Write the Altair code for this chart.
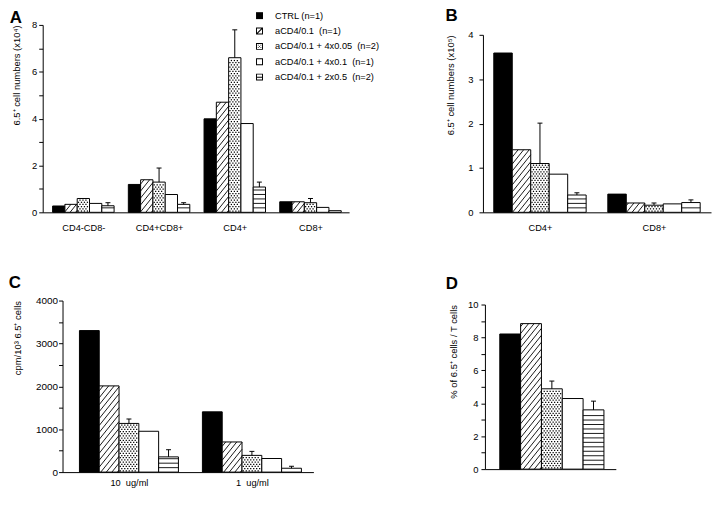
import json
import altair as alt
import numpy as np
import pandas as pd

FONT = "Liberation Sans"

# ---------------- data ----------------
SERIES = ["CTRL (n=1)", "aCD4/0.1\u00a0 (n=1)", "aCD4/0.1 + 4x0.05\u00a0 (n=2)",
          "aCD4/0.1 + 4x0.1\u00a0 (n=1)", "aCD4/0.1 + 2x0.5\u00a0 (n=2)"]
PATTERNS = ["solid", "hatch", "dots", "empty", "lines"]

A_GROUPS = ["CD4-CD8-", "CD4+CD8+", "CD4+", "CD8+"]
A_CTRL = [0.27, 1.19, 3.99, 0.45]
A_CD4 = [0.34, 1.39, 4.70, 0.45]
A_4X005 = [0.59, 1.29, 6.60, 0.41]
A_4X01 = [0.38, 0.76, 3.79, 0.21]
A_2X05 = [0.28, 0.34, 1.08, 0.07]
A_SD_4X005 = [0.0, 0.60, 1.19, 0.18]
A_SD_2X05 = [0.13, 0.07, 0.21, 0.0]

B_GROUPS = ["CD4+", "CD8+"]
B_CTRL = [3.59, 0.41]
B_CD4 = [1.41, 0.21]
B_4X005 = [1.10, 0.16]
B_4X01 = [0.86, 0.19]
B_2X05 = [0.39, 0.22]
B_SD_4X005 = [0.91, 0.05]
B_SD_2X05 = [0.05, 0.06]

C_GROUPS = ["10\u00a0 ug/ml", "1\u00a0 ug/ml"]
C_CTRL = [3300, 1405]
C_CD4 = [2010, 703]
C_4X005 = [1135, 390]
C_4X01 = [952, 317]
C_2X05 = [355, 90]
C_SD_4X005 = [103, 93]
C_SD_2X05 = [167, 46]

D_GROUPS = [""]
D_CTRL = [8.21]
D_CD4 = [8.84]
D_4X005 = [4.88]
D_4X01 = [4.29]
D_2X05 = [3.60]
D_SD_4X005 = [0.47]
D_SD_2X05 = [0.53]

RING = "M-1,-1H1V1H-1Z M-0.72,-0.72V0.72H0.72V-0.72Z"
LEGEND_PATHS = [
    "M-1,-1H1V1H-1Z",
    RING + " M-0.72,0.5L0.5,-0.72L0.72,-0.72L0.72,-0.5L-0.5,0.72L-0.72,0.72Z",
    RING + " M-0.5,-0.5h0.28v0.28h-0.28Z M0.25,-0.5h0.28v0.28h-0.28Z M-0.14,-0.14h0.28v0.28h-0.28Z"
           " M-0.5,0.22h0.28v0.28h-0.28Z M0.25,0.22h0.28v0.28h-0.28Z",
    RING,
    RING + " M-0.72,-0.12H0.72V0.16H-0.72Z",
]


def build(groups, vals, sds, xdom, bw, ymax, plot_w, plot_h):
    sx = plot_w / (xdom[1] - xdom[0])
    sy = plot_h / ymax
    n = len(SERIES)
    bars, hatch, dots, hl, err = [], [], [], [], []
    for gi in range(len(groups)):
        for si in range(n):
            v = vals[si][gi]
            x0 = gi + (si - n / 2) * bw
            x1 = x0 + bw
            pat = PATTERNS[si]
            bars.append(dict(series=SERIES[si], x0=x0, x1=x1, v=v, base=0.0,
                             fill="black" if pat == "solid" else "white"))
            w = bw * sx
            h = v * sy
            if pat == "hatch":
                s, d = 1.25, 7.0
                for c in np.arange(-s * w + 2.0, h, d):
                    xlo = max(0.0, -c / s)
                    xhi = min(w, (h - c) / s)
                    if xhi - xlo > 0.3:
                        hatch.append(dict(xa=x0 + xlo / sx, xb=x0 + xhi / sx,
                                          ya=(s * xlo + c) / sy, yb=(s * xhi + c) / sy))
            elif pat == "dots":
                for r, yy in enumerate(np.arange(1.3, h - 0.8, 2.2)):
                    off = 1.5 if r % 2 else 0.0
                    for xx in np.arange(1.3 + off, w - 0.8, 3.0):
                        dots.append(dict(x=x0 + xx / sx, y=yy / sy))
            elif pat == "lines":
                for yy in np.arange(4.5, h - 1.5, 4.5):
                    hl.append(dict(xa=x0, xb=x1, y=yy / sy))
            sd = sds[si][gi]
            if sd > 0:
                xc = (x0 + x1) / 2
                err.append(dict(xc=xc, v=v, top=v + sd, cl=xc - 2.5 / sx, cr=xc + 2.5 / sx))
    return (pd.DataFrame(bars), pd.DataFrame(hatch, columns=["xa", "xb", "ya", "yb"]),
            pd.DataFrame(dots, columns=["x", "y"]), pd.DataFrame(hl, columns=["xa", "xb", "y"]),
            pd.DataFrame(err, columns=["xc", "v", "top", "cl", "cr"]))


def panel(letter, letter_offset, letter_dx, groups, vals, sds, xdom, bw, ymax, ystep, ylabel_every,
          width, height, xrange, yrange, ytitle, ylab_pad, ylab_size, ytitle_pad, show_x_labels=True,
          yformat=None, legend=False, xlab_pad=11):
    plot_w = xrange[1] - xrange[0]
    plot_h = yrange[0] - yrange[1]
    bars, hatch, dots, hl, err = build(groups, vals, sds, xdom, bw, ymax, plot_w, plot_h)
    xs = alt.Scale(domain=list(xdom), nice=False, zero=False, range=list(xrange))
    ys = alt.Scale(domain=[0, ymax], nice=False, zero=True, range=list(yrange))
    yvals = [round(float(v), 6) for v in np.arange(0, ymax + ystep / 2, ystep)]
    yaxis_kw = dict(values=yvals,
                    labelExpr=f"abs(datum.value / {ylabel_every} - round(datum.value / {ylabel_every})) < 0.001 ? datum.label : ''",
                    title=ytitle, titleAnchor="end", titlePadding=ytitle_pad, titleFontSize=9.5,
                    tickSize=4, labelPadding=ylab_pad, labelFontSize=ylab_size, labelOverlap=False,
                    domainWidth=1, tickWidth=1, offset=-xrange[0])
    if yformat:
        yaxis_kw["format"] = yformat
    yaxis = alt.Axis(**yaxis_kw)
    if show_x_labels:
        xaxis = alt.Axis(values=list(range(len(groups))),
                         labelExpr=json.dumps(groups, ensure_ascii=False) + "[datum.value]",
                         ticks=False, title=None, labelPadding=xlab_pad, labelFontSize=9.3,
                         labelFlush=False, labelOverlap=False, domainWidth=1,
                         offset=-(height - yrange[0]))
    else:
        xaxis = alt.Axis(ticks=False, labels=False, title=None, domainWidth=1,
                         offset=-(height - yrange[0]))

    def X(f):
        return alt.X(f, scale=xs, axis=xaxis)

    def Y(f):
        return alt.Y(f, scale=ys, axis=yaxis)

    layers = [
        alt.Chart(bars).mark_rect(stroke="black", strokeWidth=1).encode(
            x=X("x0:Q"), x2="x1:Q", y=Y("v:Q"), y2="base:Q",
            color=alt.Color("fill:N", scale=None)),
        alt.Chart(hatch).mark_rule(color="black", strokeWidth=0.9).encode(
            x=X("xa:Q"), x2="xb:Q", y=Y("ya:Q"), y2="yb:Q"),
        alt.Chart(dots).mark_square(size=1.6, color="black", opacity=1).encode(
            x=X("x:Q"), y=Y("y:Q")),
        alt.Chart(hl).mark_rule(color="black", strokeWidth=0.9).encode(
            x=X("xa:Q"), x2="xb:Q", y=Y("y:Q")),
        alt.Chart(err).mark_rule(color="black", strokeWidth=1).encode(
            x=X("xc:Q"), y=Y("v:Q"), y2="top:Q"),
        alt.Chart(err).mark_rule(color="black", strokeWidth=1).encode(
            x=X("cl:Q"), x2="cr:Q", y=Y("top:Q")),
    ]
    if legend:
        layers.append(
            alt.Chart(bars).transform_filter("false").mark_point(
                filled=True, color="black", fill="black", strokeWidth=0, size=49, opacity=1).encode(
                shape=alt.Shape("series:N", scale=alt.Scale(domain=SERIES, range=LEGEND_PATHS),
                                legend=alt.Legend(title=None, orient="none", legendX=214, legendY=-14,
                                                  symbolSize=49, symbolFillColor="black",
                                                  symbolStrokeWidth=0, labelFont=FONT,
                                                  labelFontSize=9.3, labelColor="black",
                                                  labelOffset=11, rowPadding=5.5, padding=0,
                                                  labelLimit=400))))
    return alt.layer(*layers).properties(
        width=width, height=height,
        title=alt.TitleParams(letter, anchor="start", frame="bounds", fontSize=17,
                              fontWeight="bold", font=FONT, color="black",
                              offset=letter_offset, dx=letter_dx))


def five(a, b, c, d, e):
    return [a, b, c, d, e]


pA = panel("A", -7, -2, A_GROUPS, five(A_CTRL, A_CD4, A_4X005, A_4X01, A_2X05),
           five([0] * 4, [0] * 4, A_SD_4X005, [0] * 4, A_SD_2X05),
           (-0.537, 3.51), 0.1624, 8, 1, 2, 309, 189, (0, 309), (189, 0),
           "6.5\u207a cell numbers (x10\u2074)", 2, 9.5, 10, legend=True)
pB = panel("B", 0, 0, B_GROUPS, five(B_CTRL, B_CD4, B_4X005, B_4X01, B_2X05),
           five([0] * 2, [0] * 2, B_SD_4X005, [0] * 2, B_SD_2X05),
           (-0.5, 1.5), 0.162, 4, 0.5, 1, 230, 189, (0, 230), (189, 10),
           "6.5\u207a cell numbers (x10\u2075)", 6, 9.5, 12.5, yformat="d")
pC = panel("C", 4, -4, C_GROUPS, five(C_CTRL, C_CD4, C_4X005, C_4X01, C_2X05),
           five([0] * 2, [0] * 2, C_SD_4X005, [0] * 2, C_SD_2X05),
           (-0.54, 1.5), 0.161, 4000, 500, 1000, 273, 173, (20, 273), (173, 0),
           "cpm/10\u00b3 6.5\u207a cells", 1, 10, 13, yformat="d", xlab_pad=7)
pD = panel("D", 7, -3, D_GROUPS, five(D_CTRL, D_CD4, D_4X005, D_4X01, D_2X05),
           five([0], [0], D_SD_4X005, [0], D_SD_2X05),
           (-0.519, 0.496), 0.1615, 10, 1, 2, 134, 173, (2, 134), (170, 4),
           "% of 6.5\u207a cells / T cells", 3, 9.5, 9, show_x_labels=False)

chart = alt.concat(pA, pB, pC, pD, columns=2, bounds="flush",
                   spacing={"row": 89, "column": 135}).properties(
    padding={"top": -4, "left": 0, "right": 0, "bottom": 0}, background="white"
).configure_axis(
    labelFont=FONT, titleFont=FONT, labelColor="black", titleColor="black",
    domainColor="black", tickColor="black", grid=False, titleFontWeight="normal"
).configure_view(stroke="transparent")

chart.save("out.html", embed_options={"renderer": "svg", "actions": False})
